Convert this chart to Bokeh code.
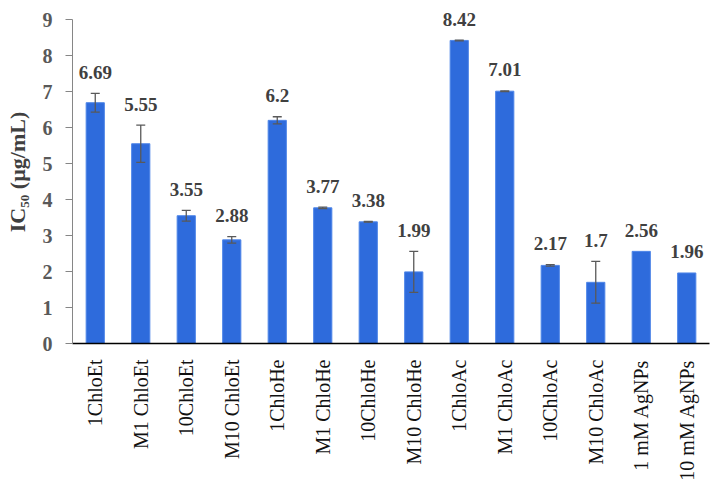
from bokeh.plotting import figure
from bokeh.models import ColumnDataSource, Whisker, TeeHead, FactorRange, Range1d, FixedTicker, LabelSet
from bokeh.embed import file_html
from bokeh.resources import INLINE
import math

categories = ["1ChloEt", "M1 ChloEt", "10ChloEt", "M10 ChloEt",
              "1ChloHe", "M1 ChloHe", "10ChloHe", "M10 ChloHe",
              "1ChloAc", "M1 ChloAc", "10ChloAc", "M10 ChloAc",
              "1 mM AgNPs", "10 mM AgNPs"]
ic50 = [6.69, 5.55, 3.55, 2.88, 6.2, 3.77, 3.38, 1.99, 8.42, 7.01, 2.17, 1.7, 2.56, 1.96]
errors = [0.26, 0.52, 0.15, 0.09, 0.10, 0.02, 0.01, 0.57, 0.01, 0.01, 0.02, 0.58, 0.0, 0.0]
labels = ["6.69", "5.55", "3.55", "2.88", "6.2", "3.77", "3.38", "1.99",
          "8.42", "7.01", "2.17", "1.7", "2.56", "1.96"]
y_ticks = [0, 1, 2, 3, 4, 5, 6, 7, 8, 9]

FONT = "Liberation Serif"
BAR = "#2E6BDC"

src = ColumnDataSource(dict(
    x=categories, top=ic50, err=errors, label=labels,
    upper=[v + e for v, e in zip(ic50, errors)],
    lower=[v - e for v, e in zip(ic50, errors)],
))
wsrc = ColumnDataSource(dict(
    x=[c for c, e in zip(categories, errors) if e > 0],
    upper=[v + e for v, e in zip(ic50, errors) if e > 0],
    lower=[v - e for v, e in zip(ic50, errors) if e > 0],
))

# frame reaches the top of the page so the top value label is not clipped;
# the axis itself is bounded to 0..9
p = figure(width=716, height=495, x_range=FactorRange(*categories, range_padding=0),
           y_range=Range1d(0, 9.53), output_backend="svg", toolbar_location=None,
           min_border_left=72, min_border_right=7, min_border_top=0, min_border_bottom=152)
p.x_range.factor_padding = 0
p.outline_line_color = None
p.xgrid.grid_line_color = None
p.ygrid.grid_line_color = None
p.background_fill_color = "white"
p.border_fill_color = "white"

p.vbar(x="x", top="top", width=0.4, source=src, fill_color=BAR,
       line_color="#4F86E8", line_width=1)

w = Whisker(base="x", upper="upper", lower="lower", source=wsrc, level="overlay",
            line_color="#595959", line_width=1.3,
            upper_head=TeeHead(size=9, line_color="#595959", line_width=1.3),
            lower_head=TeeHead(size=9, line_color="#595959", line_width=1.3))
p.add_layout(w)

ls = LabelSet(x="x", y="upper", text="label", source=src, text_align="center",
              text_baseline="middle", y_offset=21, text_font=FONT,
              text_font_style="bold", text_font_size="19px", text_color="#404040",
              level="overlay")
p.add_layout(ls)

# y axis
p.yaxis.bounds = (0, 9)
p.yaxis.ticker = FixedTicker(ticks=y_ticks)
p.yaxis.axis_label = "IC₅₀ (µg/mL)"
p.yaxis.axis_label_text_font = FONT
p.yaxis.axis_label_text_font_style = "bold"
p.yaxis.axis_label_text_font_size = "22px"
p.yaxis.axis_label_text_color = "#404040"
p.yaxis.axis_label_standoff = 10
p.yaxis.major_label_text_font = FONT
p.yaxis.major_label_text_font_style = "bold"
p.yaxis.major_label_text_font_size = "20px"
p.yaxis.major_label_text_color = "#595959"
p.yaxis.major_label_standoff = 13
p.yaxis.axis_line_color = "#868686"
p.yaxis.major_tick_line_color = "#868686"
p.yaxis.major_tick_out = 7
p.yaxis.major_tick_in = 0
p.yaxis.minor_tick_line_color = None

# x axis
p.xaxis.major_label_orientation = math.pi / 2
p.xaxis.major_label_text_font = FONT
p.xaxis.major_label_text_font_size = "20px"
p.xaxis.major_label_text_color = "#111111"
p.xaxis.major_label_standoff = 10
p.xaxis.axis_line_color = "#000000"
p.xaxis.axis_line_width = 1.5
p.xaxis.major_tick_line_color = None
p.xaxis.minor_tick_line_color = None

open("out.html", "w").write(file_html(p, INLINE))
